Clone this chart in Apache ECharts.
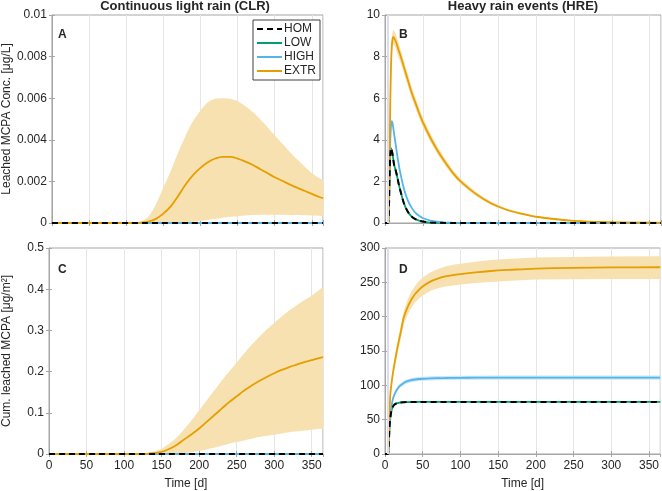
<!DOCTYPE html>
<html><head><meta charset="utf-8">
<script src="https://cdn.jsdelivr.net/npm/echarts@6/dist/echarts.min.js"></script>
<style>html,body{margin:0;padding:0;background:#fff}#c{width:662px;height:491px}</style>
</head><body><div id="c"></div>
<script>
// ---------- Panel A / C (continuous light rain), x in days ----------
const CLR_X = [0,10,20,30,40,50,60,70,80,90,100,110,120,130,140,150,160,170,180,190,200,210,220,230,240,250,260,270,280,290,300,310,320,330,340,350,360,365];
const A_EXTR = [0,0,0,0,0,0,0,0,0,0,0,0,0.00002,0.00007,0.0002,0.00045,0.0008,0.0013,0.00185,0.0023,0.00265,0.00292,0.0031,0.00318,0.00318,0.0031,0.00296,0.0028,0.0026,0.0024,0.0022,0.00203,0.00186,0.0017,0.00155,0.0014,0.00125,0.0012];
const A_EXTR_HI = [0,0,0,0,0,0,0,0,0,0,0,0.00002,0.00008,0.0003,0.0009,0.0017,0.0025,0.0034,0.0042,0.0049,0.0054,0.0058,0.00597,0.006,0.00597,0.00585,0.00563,0.00535,0.005,0.00462,0.00422,0.00382,0.00343,0.00306,0.00272,0.0024,0.00215,0.00205];
const A_EXTR_LO = [0,0,0,0,0,0,0,0,0,0,0,0,0,0,0,0,0,0,0.00002,0.00005,0.0001,0.00015,0.0002,0.00025,0.0003,0.00033,0.00036,0.00038,0.0004,0.0004,0.0004,0.0004,0.00039,0.00038,0.00037,0.00036,0.00035,0.00035];
const A_ZERO = CLR_X.map(() => 0);
const C_EXTR = [0,0,0,0,0,0,0,0,0,0,0,0,0,0.0005,0.002,0.005,0.012,0.022,0.035,0.048,0.062,0.078,0.094,0.11,0.126,0.14,0.154,0.166,0.177,0.187,0.196,0.204,0.211,0.217,0.223,0.228,0.233,0.235];
const C_EXTR_HI = [0,0,0,0,0,0,0,0,0,0,0,0,0.0005,0.002,0.006,0.013,0.025,0.04,0.06,0.082,0.106,0.13,0.154,0.178,0.2,0.222,0.244,0.265,0.284,0.302,0.318,0.334,0.348,0.361,0.373,0.385,0.398,0.405];
const C_EXTR_LO = [0,0,0,0,0,0,0,0,0,0,0,0,0,0,0,0,0,0.0005,0.002,0.004,0.007,0.011,0.015,0.02,0.025,0.029,0.033,0.037,0.041,0.044,0.047,0.05,0.053,0.055,0.057,0.059,0.061,0.062];

// ---------- Panel B / D (heavy rain events) ----------
const HRE_X = [0,3,4,5,6,7,8,9,10,11,12,14,16,18,20,25,30,35,40,45,50,60,70,80,90,100,120,140,160,180,200,250,300,365];
const B_EXTR = [0,0,0,0.3,3,5.8,7.6,8.5,8.85,8.95,8.9,8.75,8.55,8.3,8.1,7.5,6.9,6.3,5.8,5.3,4.85,4.1,3.45,2.9,2.4,2.0,1.4,0.95,0.65,0.45,0.3,0.1,0.04,0.02];
const B_EXTR_HI = [0,0,0,0.35,3.2,6.1,7.95,8.85,9.2,9.3,9.25,9.1,8.9,8.65,8.42,7.8,7.2,6.58,6.06,5.55,5.08,4.3,3.63,3.06,2.54,2.12,1.5,1.03,0.71,0.5,0.34,0.12,0.05,0.03];
const B_EXTR_LO = [0,0,0,0.25,2.8,5.5,7.25,8.15,8.5,8.6,8.55,8.4,8.2,7.95,7.78,7.2,6.6,6.02,5.54,5.05,4.62,3.9,3.27,2.74,2.26,1.88,1.3,0.87,0.59,0.4,0.26,0.08,0.03,0.01];
const B_HIGH = [0,0,0,0.5,2.5,4.0,4.7,4.9,4.8,4.55,4.3,3.8,3.3,2.85,2.45,1.65,1.1,0.75,0.5,0.35,0.24,0.11,0.05,0.02,0.01,0.005,0,0,0,0,0,0,0,0];
const B_LOW = [0,0,0,0.4,2.2,3.3,3.6,3.5,3.3,3.05,2.8,2.55,2.25,1.9,1.6,0.95,0.55,0.32,0.19,0.11,0.07,0.02,0.01,0,0,0,0,0,0,0,0,0,0,0];
const B_HOM = [0,0,0,0.4,2.2,3.3,3.6,3.5,3.3,3.05,2.8,2.55,2.25,1.9,1.6,0.95,0.55,0.32,0.19,0.11,0.07,0.02,0.01,0,0,0,0,0,0,0,0,0,0,0];
const D_EXTR = [0,0,0,10,60,86,97,106,114,121,128,140,152,163,173,199,214,225,233,239,244,251,255.5,258.5,260.5,262,264.5,266.5,268,269,270,271,271.7,272];
const D_EXTR_HI = [0,0,0,11,62,89,101,111,120,127,135,148,161,172,182,209,225,237,245,252,257,264.5,269.5,273,275.5,277,280,282.5,284,285,286,287,287.5,288];
const D_EXTR_LO = [0,0,0,9,58,83,93,101,108,115,121,132,143,154,164,189,203,213,221,226,231,237.5,241.5,244,245.5,247,249,250.5,252,253,254,254.5,255,255];
const D_HIGH = [0,0,0,15,40,55,65,72,78,82,85,90,94,97,99.5,103.5,106,107.5,108.5,109.2,109.6,110.2,110.5,110.7,110.9,111,111.1,111.2,111.2,111.3,111.3,111.3,111.3,111.3];
const D_HIGH_HI = [0,0,0,16,42,57.5,67.5,74.5,80.5,84.5,87.5,92.7,96.8,99.8,102.4,106.5,109,110.5,111.5,112.2,112.6,113.2,113.5,113.7,113.9,114,114.1,114.2,114.2,114.3,114.3,114.3,114.3,114.3];
const D_HIGH_LO = [0,0,0,14,38,52.5,62.5,69.5,75.5,79.5,82.5,87.3,91.2,94.2,96.6,100.5,103,104.5,105.5,106.2,106.6,107.2,107.5,107.7,107.9,108,108.1,108.2,108.2,108.3,108.3,108.3,108.3,108.3];
const D_LOW = [0,0,0,15,40,52,60,65,68,70,71.5,73,74,74.6,75,75.4,75.6,75.7,75.7,75.8,75.8,75.8,75.8,75.8,75.8,75.8,75.8,75.8,75.8,75.8,75.8,75.8,75.8,75.8];
const D_HOM = [0,0,0,15,40,52,60,65,68,70,71.5,73,74,74.6,75,75.4,75.6,75.7,75.7,75.8,75.8,75.8,75.8,75.8,75.8,75.8,75.8,75.8,75.8,75.8,75.8,75.8,75.8,75.8];

const LEGEND_NAMES = ['HOM','LOW','HIGH','EXTR'];
const COLORS = {HOM:'#000000', LOW:'#009E73', HIGH:'#56B4E9', EXTR:'#E69F00', EXTR_BAND:'#F7E1B0', HIGH_BAND:'#CBE7F8'};

const FONT = 'Liberation Sans, Arial, Helvetica, sans-serif';
const TXT = '#262626';
const AXC = '#A6A6A6';

const zip = (xs, ys) => xs.map((x, i) => [x, ys[i]]);

const grids = [
  {left: 48, top: 15, width: 275, height: 208},
  {left: 385, top: 15, width: 276, height: 208},
  {left: 48, top: 248, width: 275, height: 209},
  {left: 385, top: 248, width: 276, height: 209}
].map(g => Object.assign(g, {show: true, borderColor: AXC, borderWidth: 1, containLabel: false}));

const yCfg = [
  {min: 0, max: 0.01, interval: 0.002, name: 'Leached MCPA Conc. [μg/L]'},
  {min: 0, max: 10, interval: 2, name: ''},
  {min: 0, max: 0.5, interval: 0.1, name: 'Cum. leached MCPA [μg/m²]'},
  {min: 0, max: 300, interval: 50, name: ''}
];

const xAxes = [], yAxes = [];
for (let i = 0; i < 4; i++) {
  const bottom = i >= 2;
  xAxes.push({
    type: 'value', gridIndex: i, min: 0, max: 365, interval: 50,
    name: bottom ? 'Time [d]' : '', nameLocation: 'middle', nameGap: 24,
    nameTextStyle: {fontFamily: FONT, fontSize: 12, color: TXT},
    axisLine: {show: true, lineStyle: {color: AXC, width: 1}},
    axisTick: {show: true, inside: true, length: 3, lineStyle: {color: AXC}},
    axisLabel: {show: bottom, showMaxLabel: false, fontFamily: FONT, fontSize: 12, color: TXT, margin: 6},
    splitLine: {show: true, lineStyle: {color: '#E6E6E6', width: 1}}
  });
  xAxes.push({
    type: 'value', gridIndex: i, min: 0, max: 365, interval: 50, position: 'top',
    axisLine: {show: false}, axisTick: {show: true, inside: true, length: 3, lineStyle: {color: AXC}},
    axisLabel: {show: false}, splitLine: {show: false}
  });
  const c = yCfg[i];
  yAxes.push({
    type: 'value', gridIndex: i, min: c.min, max: c.max, interval: c.interval,
    name: c.name, nameLocation: 'middle', nameGap: 36, nameRotate: 90,
    nameTextStyle: {fontFamily: FONT, fontSize: 12, color: TXT},
    axisLine: {show: true, lineStyle: {color: AXC, width: 1}},
    axisTick: {show: true, inside: true, length: 3, lineStyle: {color: AXC}},
    axisLabel: {fontFamily: FONT, fontSize: 12, color: TXT, margin: 5},
    splitLine: {show: false}
  });
  yAxes.push({
    type: 'value', gridIndex: i, min: c.min, max: c.max, interval: c.interval, position: 'right',
    axisLine: {show: false}, axisTick: {show: true, inside: true, length: 3, lineStyle: {color: AXC}},
    axisLabel: {show: false}, splitLine: {show: false}
  });
}

const series = [];
function line(panel, name, xs, ys, smooth, extra) {
  const color = COLORS[name];
  const s = {
    type: 'line', name: name, xAxisIndex: panel * 2, yAxisIndex: panel * 2,
    data: zip(xs, ys), symbol: 'none', smooth: smooth, silent: true, z: 3,
    lineStyle: {color: color, width: 1.8}, itemStyle: {color: color}
  };
  if (name === 'HOM') s.lineStyle = {color: color, width: 2, type: [6, 4]};
  series.push(Object.assign(s, extra || {}));
}
function band(panel, xs, lo, hi, color, smooth) {
  series.push({
    type: 'custom', xAxisIndex: panel * 2, yAxisIndex: panel * 2, silent: true, z: 1,
    clip: true,
    data: [[xs[0], lo[0]]],
    renderItem: function (params, api) {
      const top = [], bot = [];
      for (let i = 0; i < xs.length; i++) top.push(api.coord([xs[i], hi[i]]));
      for (let i = xs.length - 1; i >= 0; i--) bot.push(api.coord([xs[i], lo[i]]));
      return {type: 'polygon', shape: {points: top.concat(bot), smooth: smooth}, style: {fill: color, stroke: null}};
    }
  });
}
const rainLine = {markLine: {silent: true, symbol: 'none', label: {show: false}, lineStyle: {color: '#DCDCF4', width: 2, type: 'solid'}, data: [{xAxis: 3}]}};

// Panel A
band(0, CLR_X, A_EXTR_LO, A_EXTR_HI, COLORS.EXTR_BAND, 0.25);
line(0, 'LOW', CLR_X, A_ZERO, 0.4);
line(0, 'HIGH', CLR_X, A_ZERO, 0.4);
line(0, 'EXTR', CLR_X, A_EXTR, 0.4);
line(0, 'HOM', CLR_X, A_ZERO, 0.4);
// Panel B
band(1, HRE_X, B_EXTR_LO, B_EXTR_HI, COLORS.EXTR_BAND, 0);
line(1, 'LOW', HRE_X, B_LOW, 0.3, rainLine);
line(1, 'HIGH', HRE_X, B_HIGH, 0.3);
line(1, 'EXTR', HRE_X, B_EXTR, 0.3);
line(1, 'HOM', HRE_X, B_HOM, 0.3);
// Panel C
band(2, CLR_X, C_EXTR_LO, C_EXTR_HI, COLORS.EXTR_BAND, 0.25);
line(2, 'LOW', CLR_X, A_ZERO, 0.4);
line(2, 'HIGH', CLR_X, A_ZERO, 0.4);
line(2, 'EXTR', CLR_X, C_EXTR, 0.4);
line(2, 'HOM', CLR_X, A_ZERO, 0.4);
// Panel D
band(3, HRE_X, D_EXTR_LO, D_EXTR_HI, COLORS.EXTR_BAND, 0);
band(3, HRE_X, D_HIGH_LO, D_HIGH_HI, COLORS.HIGH_BAND, 0);
line(3, 'LOW', HRE_X, D_LOW, 0.3, rainLine);
line(3, 'HIGH', HRE_X, D_HIGH, 0.3);
line(3, 'EXTR', HRE_X, D_EXTR, 0.3);
line(3, 'HOM', HRE_X, D_HOM, 0.3);

const texts = [
  {t: 'Continuous light rain (CLR)', x: 185, y: 6, align: 'center', font: 'bold 13px ' + FONT},
  {t: 'Heavy rain events (HRE)', x: 523, y: 6, align: 'center', font: 'bold 13px ' + FONT},
  {t: 'A', x: 58, y: 35, align: 'left', font: 'bold 12px ' + FONT},
  {t: 'B', x: 399, y: 35, align: 'left', font: 'bold 12px ' + FONT},
  {t: 'C', x: 58, y: 270, align: 'left', font: 'bold 12px ' + FONT},
  {t: 'D', x: 399, y: 270, align: 'left', font: 'bold 12px ' + FONT}
];

const option = {
  animation: false,
  backgroundColor: '#ffffff',
  grid: grids,
  xAxis: xAxes,
  yAxis: yAxes,
  legend: {
    data: LEGEND_NAMES, orient: 'vertical', left: 253, top: 20,
    itemWidth: 25, itemHeight: 10, itemGap: 2, padding: [3, 4, 3, 3],
    backgroundColor: '#ffffff', borderColor: '#404040', borderWidth: 1, borderRadius: 0,
    itemStyle: {opacity: 0},
    textStyle: {fontFamily: FONT, fontSize: 12, color: TXT, padding: [0, 0, 0, -3]},
    selectedMode: false
  },
  graphic: texts.map(o => ({
    type: 'text', x: o.x, y: o.y, silent: true, z: 100,
    style: {text: o.t, font: o.font, fill: TXT, textAlign: o.align, textVerticalAlign: 'middle'}
  })),
  series: series
};

const chart = echarts.init(document.getElementById('c'), null, {renderer: 'canvas'});
chart.setOption(option);
</script>
</body></html>
